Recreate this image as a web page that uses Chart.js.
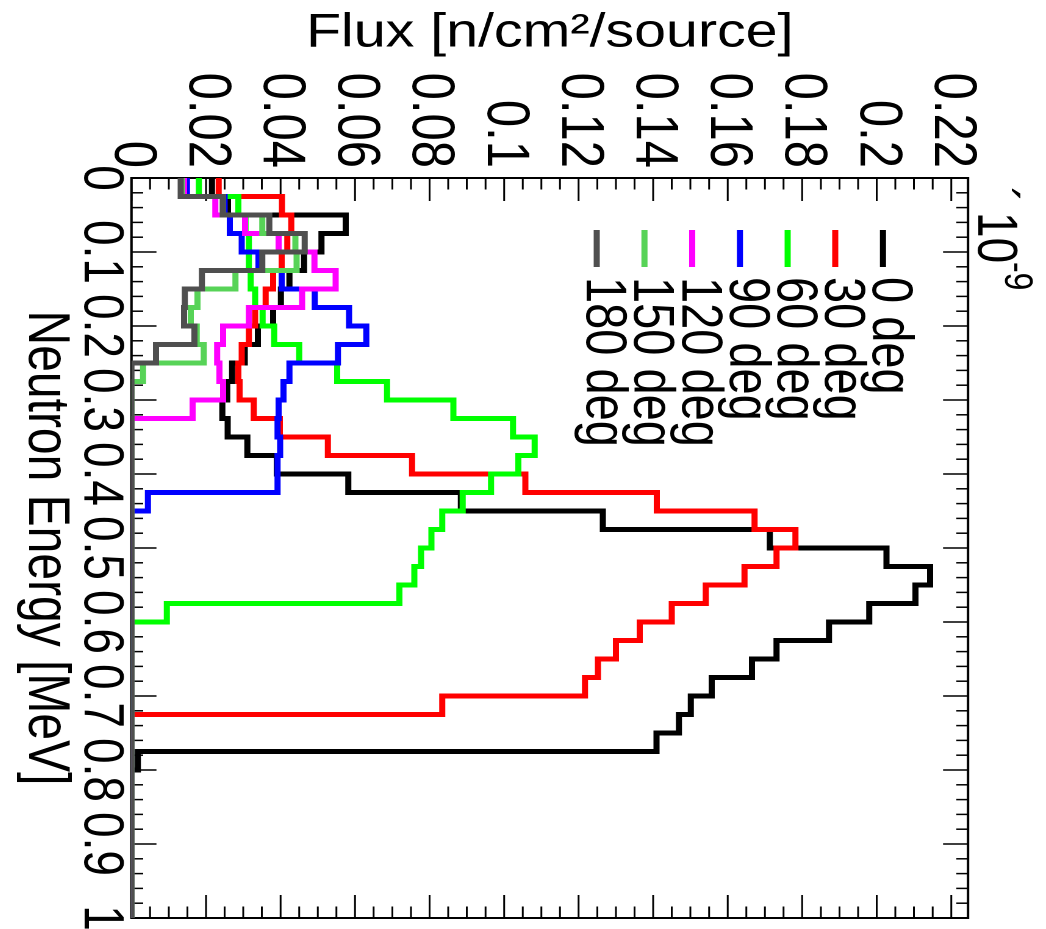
<!DOCTYPE html>
<html><head><meta charset="utf-8">
<script src="https://cdn.jsdelivr.net/npm/chart.js@4.4.1/dist/chart.umd.min.js"></script>
<style>
html,body{margin:0;padding:0;background:#fff;overflow:hidden;width:1046px;height:929px;}
#wrap{position:absolute;left:0;top:0;width:929px;height:857px;transform-origin:0 0;transform:matrix(0,1,-1.22,0,1046,0);}
canvas{display:block;}
</style></head><body>
<div id="wrap"><canvas id="c" width="929" height="857"></canvas></div>
<script>
// Bin edges of the neutron energy histograms [MeV]
const energyEdges = [0, 0.025, 0.05, 0.075, 0.1, 0.125, 0.15, 0.175, 0.2, 0.225,
  0.25, 0.275, 0.3, 0.325, 0.35, 0.375, 0.4, 0.425, 0.45, 0.475,
  0.5, 0.525, 0.55, 0.575, 0.6, 0.625, 0.65, 0.675, 0.7, 0.725,
  0.75, 0.775, 0.8, 0.825, 0.85, 0.875, 0.9, 0.925, 0.95, 0.975, 1];
const energyTicks = [0, 0.1, 0.2, 0.3, 0.4, 0.5, 0.6, 0.7, 0.8, 0.9, 1];
const fluxTicks = [0, 0.02, 0.04, 0.06, 0.08, 0.1, 0.12, 0.14, 0.16, 0.18, 0.2, 0.22];
const seriesLabels = ['0 deg', '30 deg', '60 deg', '90 deg', '120 deg', '150 deg', '180 deg'];

// Flux per bin [x1e-9 n/cm2/source]
const flux0 = [0.0216, 0.0259, 0.0575, 0.0510, 0.0463, 0.0424, 0.0401, 0.0380, 0.0339, 0.0304,
  0.0270, 0.0257, 0.0244, 0.0258, 0.0311, 0.0390, 0.0582, 0.0884, 0.1265, 0.1713,
  0.2026, 0.2143, 0.2104, 0.1980, 0.1872, 0.1731, 0.1665, 0.1557, 0.1501, 0.1469,
  0.1409, 0.0017, 0, 0, 0, 0, 0, 0, 0, 0];
const flux30 = [0.0234, 0.0404, 0.0429, 0.0418, 0.0403, 0.0380, 0.0360, 0.0332, 0.0315, 0.0296,
  0.0287, 0.0290, 0.0328, 0.0398, 0.0527, 0.0753, 0.1057, 0.1410, 0.1672, 0.1782,
  0.1731, 0.1645, 0.1541, 0.1450, 0.1364, 0.1300, 0.1252, 0.1217, 0.0834, 0,
  0, 0, 0, 0, 0, 0, 0, 0, 0, 0];
const flux60 = [0.0181, 0.0287, 0.0306, 0.0315, 0.0315, 0.0320, 0.0332, 0.0352, 0.0383, 0.0450,
  0.0552, 0.0686, 0.0864, 0.1024, 0.1082, 0.1038, 0.0965, 0.0889, 0.0834, 0.0805,
  0.0777, 0.0759, 0.0719, 0.0095, 0, 0, 0, 0, 0, 0,
  0, 0, 0, 0, 0, 0, 0, 0, 0, 0];
const flux90 = [0.0149, 0.0250, 0.0264, 0.0296, 0.0341, 0.0403, 0.0492, 0.0584, 0.0630, 0.0554,
  0.0424, 0.0408, 0.0395, 0.0392, 0.0399, 0.0392, 0.0392, 0.0044, 0, 0,
  0, 0, 0, 0, 0, 0, 0, 0, 0, 0,
  0, 0, 0, 0, 0, 0, 0, 0, 0, 0];
const flux120 = [0.0141, 0.0225, 0.0305, 0.0395, 0.0491, 0.0548, 0.0458, 0.0315, 0.0246, 0.0230,
  0.0236, 0.0246, 0.0164, 0, 0, 0, 0, 0, 0, 0,
  0, 0, 0, 0, 0, 0, 0, 0, 0, 0,
  0, 0, 0, 0, 0, 0, 0, 0, 0, 0];
const flux150 = [0.0135, 0.0245, 0.0351, 0.0440, 0.0443, 0.0279, 0.0177, 0.0159, 0.0175, 0.0194,
  0.0031, 0, 0, 0, 0, 0, 0, 0, 0, 0,
  0, 0, 0, 0, 0, 0, 0, 0, 0, 0,
  0, 0, 0, 0, 0, 0, 0, 0, 0, 0];
const flux180 = [0.0132, 0.0245, 0.0370, 0.0465, 0.0351, 0.0189, 0.0143, 0.0141, 0.0169, 0.0066,
  0, 0, 0, 0, 0, 0, 0, 0, 0, 0,
  0, 0, 0, 0, 0, 0, 0, 0, 0, 0,
  0, 0, 0, 0, 0, 0, 0, 0, 0, 0];

const seriesValues = [flux0, flux30, flux60, flux90, flux120, flux150, flux180];
const seriesColors = ['#000000', '#ff0000', '#00ff00', '#0000ff', '#ff00ff', '#57d357', '#4f4f4f'];

const FONT = "'Liberation Sans', Arial, Helvetica, sans-serif";
const fmt = v => String(Math.round(v * 1000) / 1000);

const datasets = seriesValues.map((vals, i) => ({
  label: seriesLabels[i],
  data: energyEdges.map((e, k) => ({x: e, y: vals[Math.min(k, vals.length - 1)]})),
  borderColor: seriesColors[i],
  backgroundColor: seriesColors[i],
  borderWidth: 5,
  pointRadius: 0,
  fill: false,
  stepped: true,
  tension: 0,
  borderJoinStyle: 'miter',
  borderCapStyle: 'butt',
  order: seriesValues.length - 1 - i
}));

const framePlugin = {
  id: 'frame',
  beforeDatasetsDraw(chart) {
    const {ctx, chartArea: a, scales: {x, y}} = chart;
    ctx.save();
    ctx.strokeStyle = '#000';
    ctx.lineWidth = 1.5;
    ctx.beginPath();
    for (let i = 0; i <= 50; i++) {
      const px = x.getPixelForValue(i / 50);
      const len = i % 5 === 0 ? 20.5 : 9.6;
      ctx.moveTo(px, a.bottom); ctx.lineTo(px, a.bottom - len);
      ctx.moveTo(px, a.top); ctx.lineTo(px, a.top + len);
    }
    for (let i = 0; i * 0.005 <= y.max + 1e-9; i++) {
      const py = y.getPixelForValue(i * 0.005);
      const len = i % 4 === 0 ? 23 : 11.5;
      ctx.moveTo(a.left, py); ctx.lineTo(a.left + len, py);
      ctx.moveTo(a.right, py); ctx.lineTo(a.right - len, py);
    }
    ctx.stroke();
    ctx.lineWidth = 2;
    ctx.strokeRect(a.left, a.top, a.right - a.left, a.bottom - a.top);
    ctx.restore();
  },
  afterDraw(chart) {
    const ctx = chart.ctx;
    ctx.save();
    ctx.fillStyle = '#000';
    ctx.textBaseline = 'alphabetic';
    ctx.textAlign = 'left';
    // exponent label
    ctx.font = '46px ' + FONT;
    ctx.fillText('\u00B4', 187, 55.7);
    ctx.fillText('10', 212, 55.7);
    ctx.font = '32px ' + FONT;
    ctx.fillText('-9', 262, 33.6);
    // legend
    ctx.font = '47px ' + FONT;
    seriesLabels.forEach((lab, i) => {
      const wLine = 133.6 + 39.1 * i;
      const wText = 141.8 + 39.1 * i;
      ctx.strokeStyle = seriesColors[i];
      ctx.lineWidth = 5;
      ctx.beginPath();
      ctx.moveTo(230, wLine); ctx.lineTo(267, wLine);
      ctx.stroke();
      ctx.fillText(lab, 277, wText);
    });
    ctx.restore();
  }
};

new Chart(document.getElementById('c'), {
  type: 'line',
  data: {datasets},
  options: {
    responsive: false,
    animation: false,
    devicePixelRatio: 2,
    layout: {padding: {top: 63.9, right: 11, left: 0, bottom: 0}},
    plugins: {legend: {display: false}, tooltip: {enabled: false}},
    scales: {
      x: {
        type: 'linear', position: 'bottom', min: 0, max: 1,
        grid: {display: false, drawTicks: false},
        border: {display: false},
        afterBuildTicks: s => { s.ticks = energyTicks.map(v => ({value: v})); },
        afterFit: s => { s.height = 857 - 749.6; s.paddingLeft = 0; s.paddingRight = 0; },
        ticks: {autoSkip: false, maxRotation: 0, minRotation: 0, padding: 2.8, color: '#000',
          font: {family: FONT, size: 46, lineHeight: 1}, callback: v => fmt(v)},
        title: {display: true, text: 'Neutron Energy [MeV]', color: '#000',
          font: {family: FONT, size: 48, lineHeight: 1.2}, padding: {top: 0, bottom: 7.8}}
      },
      y: {
        type: 'linear', position: 'left', min: 0, max: 0.2245,
        grid: {display: false, drawTicks: false},
        border: {display: false},
        afterBuildTicks: s => { s.ticks = fluxTicks.map(v => ({value: v})); },
        afterFit: s => { s.width = 178; s.paddingTop = 0; s.paddingBottom = 0; },
        ticks: {autoSkip: false, padding: 10, color: '#000',
          font: {family: FONT, size: 49, lineHeight: 1}, callback: v => fmt(v)},
        title: {display: true, text: 'Flux [n/cm\u00B2/source]', color: '#000',
          font: {family: FONT, size: 47, lineHeight: 1.2}, padding: {top: 5.5, bottom: 0}}
      }
    }
  },
  plugins: [framePlugin]
});
</script>
</body></html>
